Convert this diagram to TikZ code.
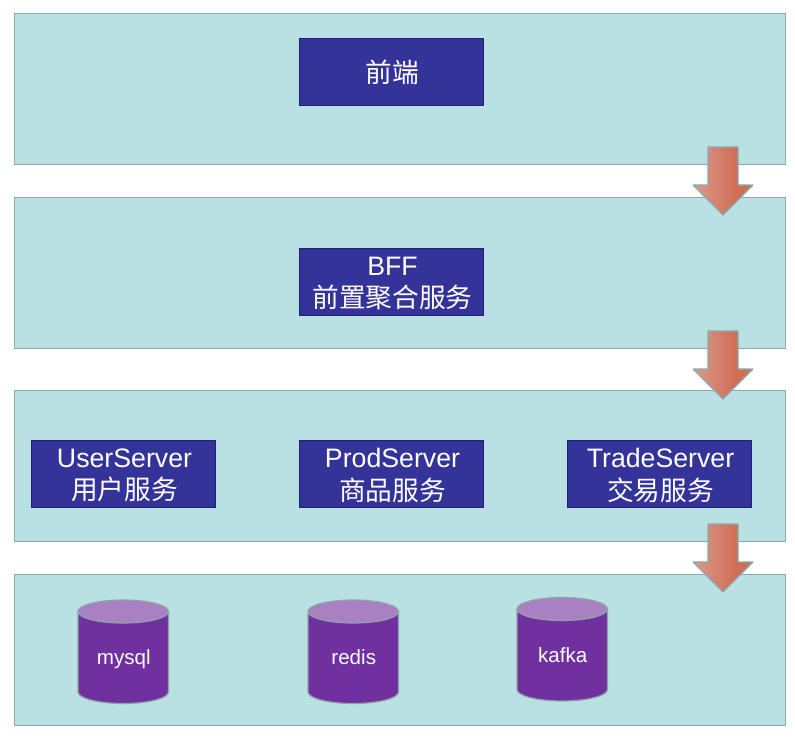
\documentclass[tikz,border=0pt]{standalone}
\usepackage{fontspec}
\setmainfont{Liberation Sans}
\newfontfamily\cjk{Noto Sans CJK SC}
\definecolor{layerfill}{HTML}{B9E0E2}
\definecolor{layerline}{HTML}{8FA8A9}
\definecolor{boxfill}{HTML}{333399}
\definecolor{boxline}{HTML}{1F1F78}
\definecolor{cylfill}{HTML}{7030A0}
\definecolor{cyltop}{HTML}{A981C2}
\definecolor{cylline}{HTML}{8FA5A5}
\definecolor{arrowline}{HTML}{86ABAD}
\definecolor{arrowlight}{HTML}{DC9A8C}
\definecolor{arrowdark}{HTML}{D06E58}
\pgfdeclarehorizontalshading{downarrowshade}{100bp}{
  color(0bp)=(arrowlight);
  color(25bp)=(arrowlight);
  color(60bp)=(arrowdark);
  color(100bp)=(arrowdark)}
\tikzset{
  x=1pt,y=-1pt,
  layer/.style={draw=layerline,line width=0.9pt,fill=layerfill},
  svcframe/.style={draw=boxline,line width=0.9pt,fill=boxfill,minimum width=184pt,minimum height=67pt,inner sep=0pt},
  svctext/.style={text=white,inner sep=0pt,align=center,font=\fontsize{26.7}{32.5}\selectfont},
  cylbody/.style={draw=cylline,line width=1.2pt,fill=cylfill},
  cylcap/.style={draw=cylline,line width=1.2pt,fill=cyltop},
  cyllabel/.style={text=white,inner sep=0pt,anchor=base,font=\fontsize{20.6}{24}\selectfont},
  blockarrow/.style={draw=arrowline,line width=1.2pt,line join=bevel,shading=downarrowshade},
}
\newcommand{\layerbox}[2]{\node[layer,anchor=north west,minimum width=771pt,minimum height=151pt,inner sep=0pt] (#1) at (14,#2) {};}
\newcommand{\svcbox}[5]{%
  \node[svcframe] (#1) at (#2,#3) {};
  \node[svctext] (#1-text) at (#2+1.5,#3+#4) {#5};}
\newcommand{\dbcyl}[4]{%
  \draw[cylbody] (#2,#3+11.5) -- (#2,#3+92) arc[start angle=180,end angle=360,x radius=45.25pt,y radius=11.5pt] -- (#2+90.5,#3+11.5) -- cycle;
  \draw[cylcap] (#2+45.25,#3+11.5) ellipse[x radius=45.25pt,y radius=11.5pt];
  \node[cyllabel] (#1) at (#2+45.75,#3+64.5) {#4};}
\newcommand{\downblock}[2]{%
  \coordinate (#1) at (723,#2);
  \path[blockarrow] (#1) ++(-15,0) -- ++(30,0) -- ++(0,38) -- ++(15,0) -- ++(-30,30) -- ++(-30,-30) -- ++(15,0) -- cycle;}
\begin{document}
\begin{tikzpicture}
\useasboundingbox[fill=white] (0,0) rectangle (795,737);
\layerbox{l1}{13}
\layerbox{l2}{197}
\layerbox{l3}{390}
\layerbox{l4}{574}
\svcbox{front}{391}{71.5}{1}{{\cjk 前端}}
\svcbox{bff}{391}{281.5}{2}{BFF\\{\cjk 前置聚合服务}}
\svcbox{user}{123}{473.5}{2}{UserServer\\{\cjk 用户服务}}
\svcbox{prod}{391}{473.5}{2}{ProdServer\\{\cjk 商品服务}}
\svcbox{trade}{659}{473.5}{2}{TradeServer\\{\cjk 交易服务}}
\dbcyl{mysql}{78}{600}{mysql}
\dbcyl{redis}{308}{600}{redis}
\dbcyl{kafka}{517}{597.5}{kafka}
\downblock{a1}{147}
\downblock{a2}{331}
\downblock{a3}{524}
\end{tikzpicture}
\end{document}
